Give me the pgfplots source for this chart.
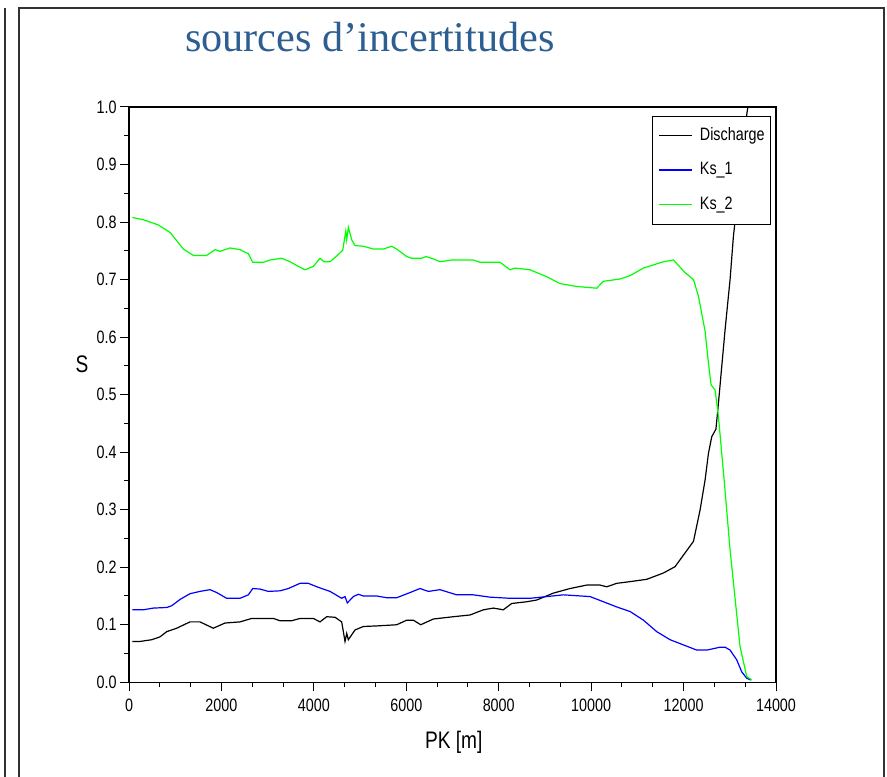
\documentclass[border=0pt]{standalone}
\usepackage{fontspec}
\setmainfont{Liberation Sans}[FakeStretch=0.8]
\newfontfamily\titlefont{Liberation Serif}
\usepackage{pgfplots}
\pgfplotsset{compat=1.18}
\definecolor{titleblue}{RGB}{44,94,146}
\definecolor{framegray}{RGB}{50,50,50}
\definecolor{ksgreen}{RGB}{0,255,0}
\definecolor{ksblue}{RGB}{0,0,255}

\begin{document}
\begin{tikzpicture}[x=1bp,y=1bp]
\useasboundingbox (0,0) rectangle (887,777);
\draw[line width=1.8bp, framegray] (5,0) -- (5,769);
\draw[line width=1.8bp, framegray] (19,0) -- (19,769) -- (884,769) -- (884,0);
\node[anchor=base, text=titleblue, font=\titlefont\fontsize{42.4}{48}\selectfont] at (370,725) {sources d’incertitudes};
\begin{axis}[
  at={(129bp,94.7bp)}, anchor=south west,
  scale only axis, width=647bp, height=575.3bp,
  xmin=0, xmax=14000, ymin=0, ymax=1,
  axis line style={line width=1.3bp, black},
  tick style={line width=1bp, black},
  tick align=outside, tick pos=left,
  major tick length=9bp, minor tick length=5bp,
  xtick={0,2000,4000,6000,8000,10000,12000,14000},
  ytick={0,0.1,0.2,0.3,0.4,0.5,0.6,0.7,0.8,0.9,1.0},
  minor x tick num=2, minor y tick num=1,
  scaled x ticks=false,
  /pgf/number format/assume math mode=true,
  xticklabel style={/pgf/number format/set thousands separator={}, font=\fontsize{18}{20}\selectfont, yshift=-4bp},
  yticklabel style={/pgf/number format/fixed, /pgf/number format/fixed zerofill, /pgf/number format/precision=1, font=\fontsize{18}{20}\selectfont},
  xlabel={PK [m]},
  xlabel style={at={(axis description cs:0.502,-0.1153)}, anchor=base, font=\fontsize{24}{28}\selectfont},
  ylabel={S},
  ylabel style={at={(axis description cs:-0.0726,0.5535)}, anchor=center, rotate=-90, font=\fontsize{24}{28}\selectfont},
  legend style={at={(0.9923,0.985)}, anchor=north east, draw=black, line width=1bp,
    inner xsep=6bp, inner ysep=11.5bp, row sep=18.5bp, column sep=7bp,
    nodes={inner sep=0pt, text height=12.5bp, text depth=3.5bp},
    cells={anchor=west}, font=\fontsize{18}{20}\selectfont},
  legend image code/.code={\draw[#1, line width=1.3bp] (0bp,0bp) -- (33bp,0bp);},
]
\addplot[black, line width=1.2bp] coordinates {
(72,0.071) (238,0.071) (491,0.074) (671,0.079) (815,0.088) (1032,0.094)
(1320,0.105) (1536,0.105) (1824,0.094) (2077,0.103) (2402,0.105) (2655,0.111)
(3123,0.111) (3267,0.107) (3520,0.107) (3700,0.111) (3989,0.111) (4133,0.105)
(4278,0.114) (4458,0.113) (4602,0.105) (4674,0.071) (4711,0.085) (4746,0.074)
(4891,0.091) (5071,0.097) (5360,0.098) (5792,0.100) (6009,0.108) (6153,0.108)
(6312,0.100) (6585,0.110) (7018,0.114) (7379,0.117) (7668,0.126) (7884,0.129)
(8100,0.126) (8281,0.137) (8605,0.140) (8822,0.143) (9182,0.155) (9543,0.163)
(9904,0.169) (10193,0.169) (10337,0.166) (10553,0.172) (10843,0.175) (11203,0.179)
(11564,0.190) (11816,0.201) (11924,0.213) (12214,0.245) (12358,0.300) (12466,0.352)
(12538,0.398) (12610,0.427) (12700,0.440) (12754,0.485) (12898,0.613) (13006,0.700)
(13078,0.775) (13367,0.987) (13390,1.000) (13475,1.000)
};
\addlegendentry{Discharge}
\addplot[ksblue, line width=1.2bp] coordinates {
(72,0.126) (310,0.126) (527,0.129) (815,0.130) (924,0.133) (1104,0.144)
(1320,0.154) (1536,0.158) (1753,0.161) (1897,0.156) (2113,0.146) (2402,0.146)
(2582,0.152) (2677,0.163) (2835,0.162) (3015,0.158) (3267,0.159) (3448,0.163)
(3700,0.172) (3881,0.172) (4097,0.165) (4350,0.158) (4602,0.146) (4674,0.149)
(4724,0.138) (4854,0.149) (4962,0.153) (5071,0.150) (5360,0.150) (5576,0.147)
(5792,0.147) (6081,0.156) (6297,0.163) (6478,0.158) (6729,0.161) (7091,0.152)
(7451,0.152) (7812,0.148) (8245,0.146) (8678,0.146) (9039,0.149) (9399,0.152)
(9976,0.149) (10265,0.140) (10553,0.131) (10843,0.123) (11131,0.108) (11420,0.088)
(11708,0.074) (11996,0.065) (12285,0.056) (12502,0.056) (12790,0.061) (12898,0.061)
(13006,0.056) (13150,0.039) (13259,0.018) (13367,0.007) (13453,0.004)
};
\addlegendentry{Ks\_1}
\addplot[ksgreen, line width=1.2bp] coordinates {
(72,0.808) (310,0.804) (634,0.795) (887,0.782) (959,0.775) (1175,0.753)
(1392,0.742) (1680,0.742) (1861,0.752) (1969,0.749) (2186,0.755) (2402,0.752)
(2582,0.745) (2677,0.730) (2907,0.730) (3051,0.734) (3304,0.737) (3484,0.731)
(3664,0.723) (3809,0.717) (3989,0.723) (4133,0.737) (4220,0.731) (4350,0.731)
(4495,0.741) (4625,0.751) (4690,0.784) (4711,0.769) (4746,0.791) (4820,0.769)
(4891,0.759) (5071,0.758) (5288,0.753) (5504,0.753) (5684,0.758) (5792,0.753)
(6009,0.740) (6117,0.737) (6333,0.737) (6426,0.740) (6585,0.736) (6729,0.731)
(6983,0.734) (7451,0.734) (7596,0.730) (8028,0.730) (8245,0.717) (8353,0.720)
(8678,0.717) (9039,0.705) (9327,0.693) (9688,0.688) (10121,0.685) (10265,0.697)
(10626,0.701) (10843,0.707) (11131,0.720) (11564,0.731) (11780,0.734) (12034,0.712)
(12214,0.700) (12322,0.671) (12466,0.610) (12538,0.555) (12595,0.517) (12682,0.508)
(12754,0.462) (12877,0.352) (13006,0.230) (13222,0.062) (13367,0.010) (13475,0.004)
};
\addlegendentry{Ks\_2}
\end{axis}
\end{tikzpicture}
\end{document}
